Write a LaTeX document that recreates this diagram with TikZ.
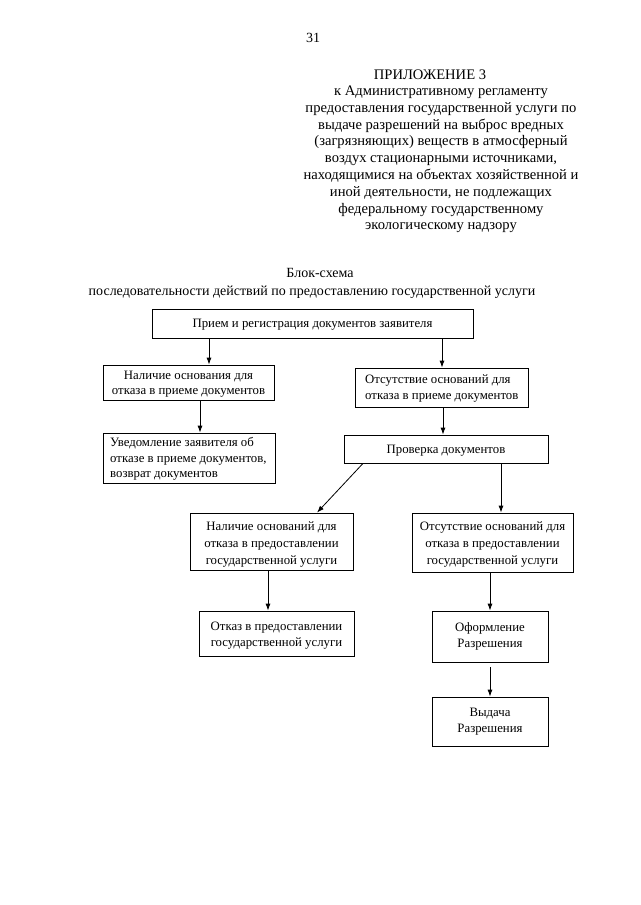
\documentclass[tikz,border=0pt]{standalone}
\usepackage{fontspec}
\setmainfont{Liberation Serif}
\usetikzlibrary{arrows.meta}
\tikzset{
  box/.style={draw, line width=0.8pt, inner sep=0pt},
  btext/.style={inner sep=0pt, align=center, font=\fontsize{12.8}{15.5}\selectfont},
  btextl/.style={btext, align=left, anchor=west},
  arr/.style={line width=0.8pt, -{Latex[length=7pt,width=5pt]}},
  hdr/.style={inner sep=0pt, align=center, font=\fontsize{14.6}{16.8}\selectfont},
  ttl/.style={inner sep=0pt, align=center, font=\fontsize{14}{16.8}\selectfont},
}
\begin{document}
\begin{tikzpicture}[x=1pt,y=-1pt]
\useasboundingbox[fill=white] (0,0) rectangle (640,905);

\node[ttl] (pnum) at (313,38) {31};
\node[hdr] (app) at (430,75) {ПРИЛОЖЕНИЕ 3};
\node[hdr] (hdrtext) at (441,159.5) {к Административному регламенту\\
предоставления государственной услуги по\\
выдаче разрешений на выброс вредных\\
(загрязняющих) веществ в атмосферный\\
воздух стационарными источниками,\\
находящимися на объектах хозяйственной и\\
иной деятельности, не подлежащих\\
федеральному государственному\\
экологическому надзору};

\node[ttl] (t1) at (320,273) {Блок-схема};
\node[ttl] (t2) at (312,292) {последовательности действий по предоставлению государственной услуги};

% boxes
\node[box, minimum width=321pt, minimum height=29pt] (b1) at (312.5,323.5) {};
\node[box, minimum width=171pt, minimum height=35pt] (b2) at (188.5,382.5) {};
\node[box, minimum width=173pt, minimum height=39pt] (b3) at (441.5,387.5) {};
\node[box, minimum width=172pt, minimum height=50pt] (b4) at (189,458) {};
\node[box, minimum width=204pt, minimum height=28pt] (b5) at (446,449) {};
\node[box, minimum width=163pt, minimum height=57pt] (b6) at (271.5,541.5) {};
\node[box, minimum width=161pt, minimum height=59pt] (b7) at (492.5,542.5) {};
\node[box, minimum width=155pt, minimum height=45pt] (b8) at (276.5,633.5) {};
\node[box, minimum width=116pt, minimum height=51pt] (b9) at (490,636.5) {};
\node[box, minimum width=116pt, minimum height=49pt] (b10) at (490,721.5) {};

% texts
\node[btext] (b1t) at (312.5,324.5) {Прием и регистрация документов заявителя};
\node[btext] (b2t) at (188.5,384) {Наличие основания для\\отказа в приеме документов};
\node[btextl] (b3t) at (365,388.5) {Отсутствие оснований для\\отказа в приеме документов};
\node[btextl] (b4t) at (110,459) {Уведомление заявителя об\\отказе в приеме документов,\\возврат документов};
\node[btext] (b5t) at (446,451) {Проверка документов};
\node[btext, font=\fontsize{12.8}{17}\selectfont] (b6t) at (271.5,544.5)
  {Наличие оснований для\\отказа в предоставлении\\государственной услуги};
\node[btext, font=\fontsize{12.8}{17}\selectfont] (b7t) at (492.5,544.5)
  {Отсутствие оснований для\\отказа в предоставлении\\государственной услуги};
\node[btext] (b8t) at (276.5,635.5) {Отказ в предоставлении\\государственной услуги};
\node[btext] (b9t) at (490,636.5) {Оформление\\Разрешения};
\node[btext] (b10t) at (490,721.5) {Выдача\\Разрешения};

\coordinate (xa) at (209,0);
\coordinate (xb) at (442,0);
\coordinate (xc) at (200,0);
\coordinate (xd) at (443,0);
\coordinate (xe) at (363,0);
\coordinate (xf) at (317,0);
\coordinate (xg) at (501,0);
\coordinate (xh) at (268,0);
\coordinate (xi) at (490,0);

\draw[arr] (b1.south -| xa) -- (b2.north -| xa);
\draw[arr] (b1.south -| xb) -- (b3.north -| xb);
\draw[arr] (b2.south -| xc) -- (b4.north -| xc);
\draw[arr] (b3.south -| xd) -- (b5.north -| xd);
\draw[arr] (b5.south -| xe) -- (b6.north -| xf);
\draw[arr] (b5.south -| xg) -- (b7.north -| xg);
\draw[arr] (b6.south -| xh) -- (b8.north -| xh);
\draw[arr] (b7.south -| xi) -- (b9.north -| xi);
\draw[arr, shorten <=5pt] (b9.south -| xi) -- (b10.north -| xi);
\end{tikzpicture}
\end{document}
